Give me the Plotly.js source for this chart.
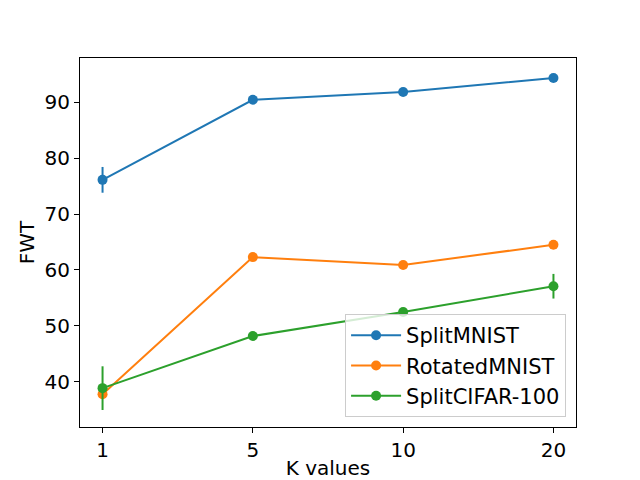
<!DOCTYPE html>
<html><head><meta charset="utf-8">
<script src="https://cdn.plot.ly/plotly-3.0.1.min.js"></script>
<style>html,body{margin:0;padding:0;background:#fff}</style>
</head><body><div id="chart" style="width:640px;height:480px"></div>
<script>
const kValues = ['1', '5', '10', '20'];
const splitMNIST = [76.1, 90.4, 91.8, 94.3];
const splitMNISTErr = [2.3, 0.4, 0.4, 0.4];
const rotatedMNIST = [37.8, 62.3, 60.9, 64.5];
const rotatedMNISTErr = [0.6, 0.4, 0.4, 0.4];
const splitCIFAR = [38.9, 48.2, 52.5, 57.1];
const splitCIFARErr = [3.9, 0.4, 0.4, 2.2];

const names = ['SplitMNIST', 'RotatedMNIST', 'SplitCIFAR-100'];
const colors = ['#1f77b4', '#ff7f0e', '#2ca02c'];
const ys = [splitMNIST, rotatedMNIST, splitCIFAR];
const errs = [splitMNISTErr, rotatedMNISTErr, splitCIFARErr];

const traces = names.map((n, i) => ({
  x: kValues, y: ys[i], name: n, type: 'scatter', mode: 'lines+markers',
  line: {color: colors[i], width: 2},
  marker: {color: colors[i], size: 10},
  error_y: {type: 'data', array: errs[i], visible: true, color: colors[i], thickness: 2, width: 0}
}));

const axisCommon = {
  showline: true, linecolor: '#000', linewidth: 1, mirror: true,
  ticks: 'outside', ticklen: 5, tickwidth: 1, tickcolor: '#000',
  showgrid: false, zeroline: false,
  tickfont: {size: 20, color: '#000'}
};

const layout = {
  width: 640, height: 480,
  margin: {l: 80, r: 64, t: 58, b: 53},
  paper_bgcolor: '#fff', plot_bgcolor: '#fff',
  font: {family: 'DejaVu Sans', color: '#000'},
  showlegend: true,
  xaxis: Object.assign({}, axisCommon, {
    type: 'category', range: [-0.15, 3.15],
    title: {text: 'K values', font: {size: 20}, standoff: 8}
  }),
  yaxis: Object.assign({}, axisCommon, {
    range: [31.96, 97.86], tickvals: [40, 50, 60, 70, 80, 90],
    title: {text: 'FWT', font: {size: 20}, standoff: 4}
  }),
  legend: {
    x: 0.98, y: 0.027, xanchor: 'right', yanchor: 'bottom',
    bgcolor: 'rgba(255,255,255,0.8)', bordercolor: '#cccccc', borderwidth: 1,
    font: {size: 21}, itemwidth: 50
  }
};
Plotly.newPlot('chart', traces, layout, {displayModeBar: false});
</script></body></html>
